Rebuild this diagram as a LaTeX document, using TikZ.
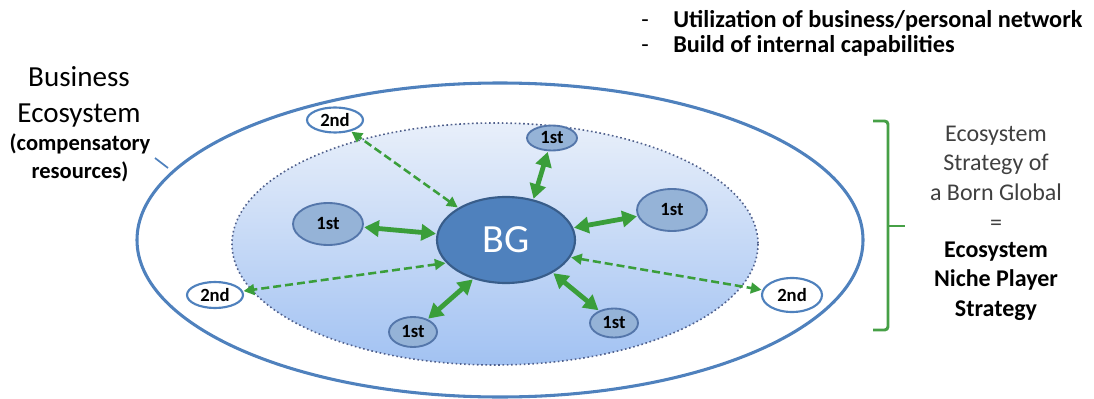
\documentclass[tikz,border=0pt]{standalone}
\usepackage{fontspec}
\setmainfont{Carlito}
\usetikzlibrary{shapes.geometric,arrows.meta}
\definecolor{ecoblue}{RGB}{79,129,189}
\definecolor{ecodark}{RGB}{56,93,138}
\definecolor{firstfill}{RGB}{149,179,215}
\definecolor{firstline}{RGB}{84,118,170}
\definecolor{linkgreen}{RGB}{58,158,58}
\definecolor{bracegreen}{RGB}{70,160,70}
\definecolor{dotline}{RGB}{80,96,140}
\definecolor{textgray}{RGB}{64,64,64}
\tikzset{
  actor/.style={ellipse,inner sep=0pt,font=\bfseries\fontsize{14}{16}\selectfont},
  firsttier/.style={actor,draw=firstline,line width=1.4pt,fill=firstfill},
  secondtier/.style={actor,draw=ecoblue,line width=1.6pt,fill=white},
  stronglink/.style={draw=linkgreen,line width=3.6pt,{Triangle[width=12pt,length=11pt]}-{Triangle[width=12pt,length=11pt]},shorten <=0.5pt,shorten >=0.5pt},
  weaklink/.style={draw=linkgreen,line width=1.9pt,dash pattern=on 6pt off 3pt,{Triangle[width=8pt,length=8pt]}-{Triangle[width=8pt,length=8pt]},shorten <=0.5pt,shorten >=0.5pt},
}
\begin{document}
\begin{tikzpicture}[x=0.75pt,y=-0.75pt]
\path[use as bounding box] (0,0) rectangle (1094,399);

% business ecosystem and the firm's own network
\draw[ecoblue,line width=2.3pt] (500,240) ellipse [x radius=363,y radius=157];
\shade[top color={rgb,255:red,232;green,239;blue,250},bottom color={rgb,255:red,162;green,194;blue,242}]
  (495,244) ellipse [x radius=263,y radius=121];
\draw[dotline,line width=1.2pt,dotted] (495,244) ellipse [x radius=263,y radius=121];

% actors
\node[ellipse,draw=ecodark,line width=1.6pt,fill=ecoblue,minimum width=103.5pt,minimum height=64.5pt,text=white,font=\fontsize{30}{32}\selectfont] (bg) at (506,240) {BG};
\node[firsttier,minimum width=37.5pt,minimum height=18.75pt] (f1) at (552,138) {1st};
\node[firsttier,minimum width=52.5pt,minimum height=31.5pt] (f2) at (328,224) {1st};
\node[firsttier,minimum width=52.5pt,minimum height=31.5pt] (f3) at (672,210) {1st};
\node[firsttier,minimum width=36pt,minimum height=22.5pt] (f4) at (413,332) {1st};
\node[firsttier,minimum width=36pt,minimum height=21.75pt] (f5) at (614,323) {1st};
\node[secondtier,minimum width=42pt,minimum height=18.75pt] (s1) at (335,120) {2nd};
\node[secondtier,minimum width=42pt,minimum height=19.5pt] (s2) at (215,295) {2nd};
\node[secondtier,minimum width=45pt,minimum height=25.5pt] (s3) at (792,295) {2nd};

% links
\path[stronglink] (bg.56) -- (f1);
\path[stronglink] (bg) -- (f2);
\path[stronglink] (bg) -- (f3);
\path[stronglink] (bg.230) -- (f4);
\path[stronglink] (bg.-35) -- (f5);
\path[weaklink] (bg.146) -- (s1);
\path[weaklink] (bg.201) -- (s2);
\path[weaklink] (bg.-15) -- (s3);

% ecosystem label
\node[align=center,font=\fontsize{21.8}{27.5}\selectfont] (ecoA) at (79,97) {Business\\Ecosystem};
\node[align=center,font=\bfseries\fontsize{16.9}{21}\selectfont] (ecoB) at (80,158) {(compensatory\\resources)};
\coordinate (rim) at (168,168);
\draw[ecoblue,line width=1.3pt] (155,158) -- (rim);

% capabilities list
\node[anchor=base west,inner sep=0pt,font=\bfseries\fontsize{18.2}{20}\selectfont] (capA) at (673,28) {Utilization of business/personal network};
\node[anchor=base west,inner sep=0pt,font=\bfseries\fontsize{18.2}{20}\selectfont] (capB) at (673,53) {Build of internal capabilities};
\node[anchor=base,inner sep=0pt,font=\fontsize{18.2}{20}\selectfont] (dashA) at (645,28) {-};
\node[anchor=base,inner sep=0pt,font=\fontsize{18.2}{20}\selectfont] (dashB) at (645,53) {-};

% strategy brace
\coordinate (bt) at (873,121);
\coordinate (bb) at (873,330);
\coordinate (bm) at (905,226);
\draw[bracegreen,line width=2.2pt,rounded corners=2.5pt] (bt) -- (888,121) -- (888,330) -- (bb);
\draw[bracegreen,line width=2.2pt] (888,226) -- (bm);

\node[align=center,text=textgray,font=\fontsize{18}{22.3}\selectfont] (stratA) at (996,178) {Ecosystem\\Strategy of\\a Born Global\\=};
\node[align=center,font=\bfseries\fontsize{18}{22.3}\selectfont] (stratB) at (996,281) {Ecosystem\\Niche Player\\Strategy};
\end{tikzpicture}
\end{document}
